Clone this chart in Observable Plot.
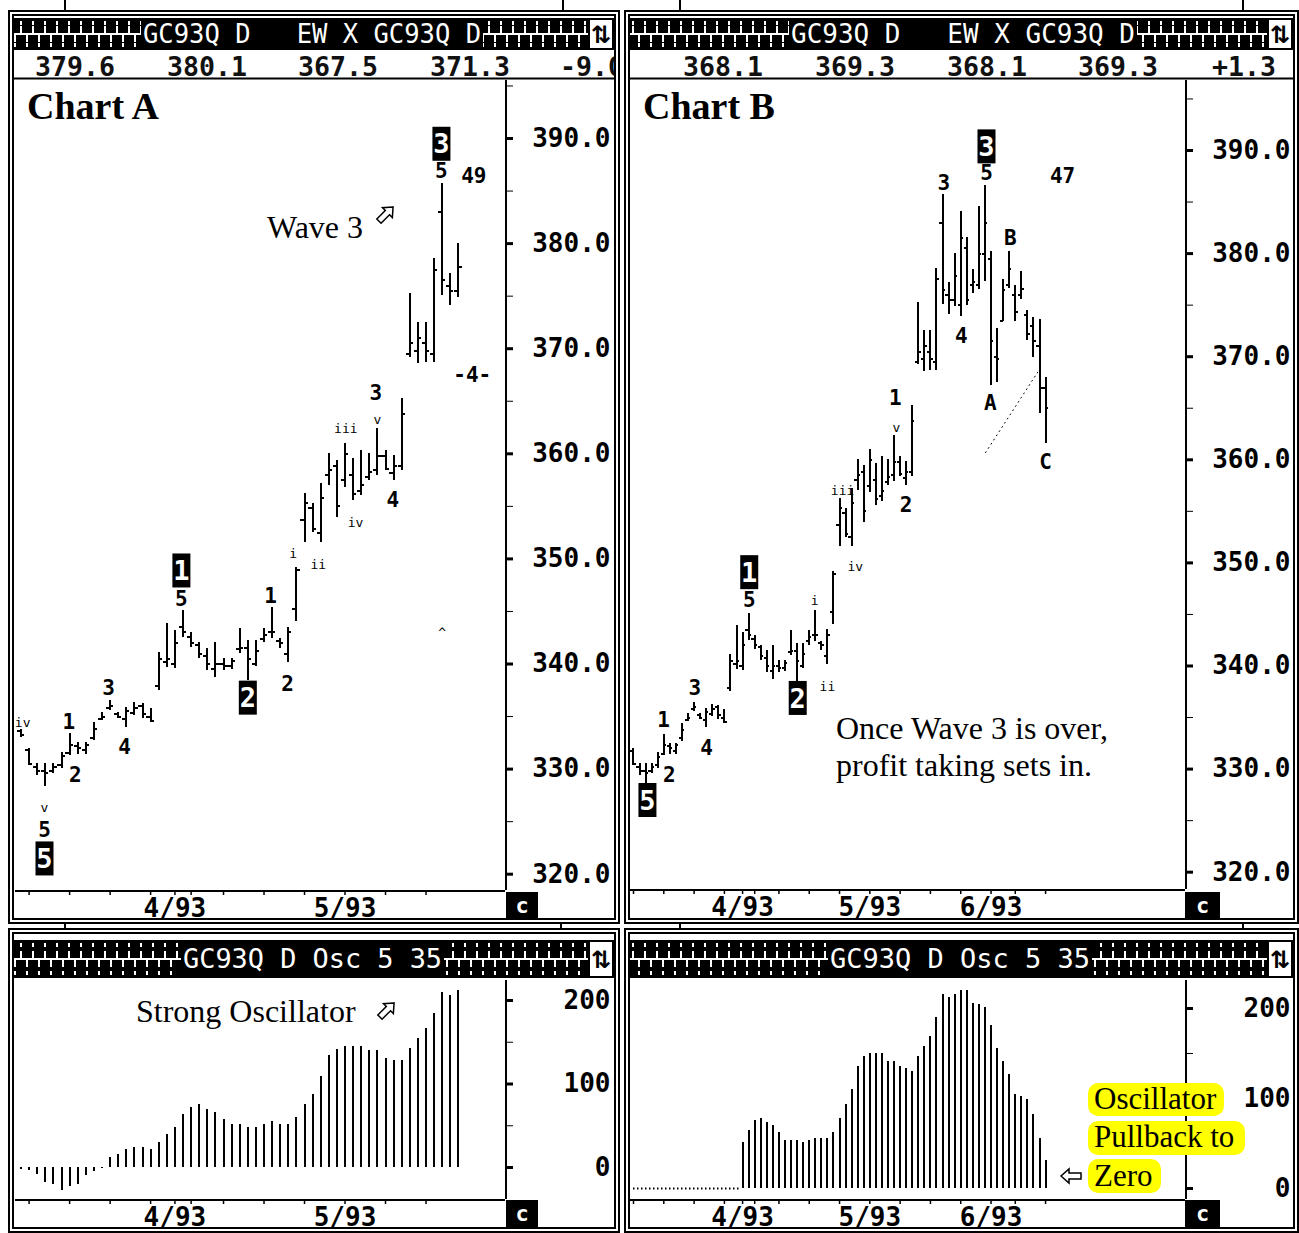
<!DOCTYPE html>
<html>
<head>
<meta charset="utf-8">
<script src="https://cdn.jsdelivr.net/npm/d3@7"></script>
<script src="https://cdn.jsdelivr.net/npm/@observablehq/plot@0.6"></script>
<style>
html,body{margin:0;padding:0;background:#fff;}
body{width:1299px;height:1233px;position:relative;overflow:hidden;}
.pl{position:absolute;}
svg.layer{position:absolute;left:0;top:0;}
</style>
</head>
<body>
<script>
// ---------------- DATA ----------------
const dates = [
 "1993-03-05",
 "1993-03-08","1993-03-09","1993-03-10","1993-03-11","1993-03-12",
 "1993-03-15","1993-03-16","1993-03-17","1993-03-18","1993-03-19",
 "1993-03-22","1993-03-23","1993-03-24","1993-03-25","1993-03-26",
 "1993-03-29","1993-03-30","1993-03-31","1993-04-01","1993-04-02",
 "1993-04-05","1993-04-06","1993-04-07","1993-04-08",
 "1993-04-12","1993-04-13","1993-04-14","1993-04-15","1993-04-16",
 "1993-04-19","1993-04-20","1993-04-21","1993-04-22","1993-04-23",
 "1993-04-26","1993-04-27","1993-04-28","1993-04-29","1993-04-30",
 "1993-05-03","1993-05-04","1993-05-05","1993-05-06","1993-05-07",
 "1993-05-10","1993-05-11","1993-05-12","1993-05-13","1993-05-14",
 "1993-05-17","1993-05-18","1993-05-19","1993-05-20","1993-05-21",
 "1993-05-24","1993-05-25","1993-05-26","1993-05-27","1993-05-28",
 "1993-06-01","1993-06-02","1993-06-03","1993-06-04",
 "1993-06-07","1993-06-08","1993-06-09","1993-06-10","1993-06-11",
 "1993-06-14"
];
const high = [333.8,332.0,330.5,330.5,330.5,331.6,333.4,332.5,332.5,334.4,
 335.4,336.5,335.4,335.9,336.3,336.2,335.8,341.1,343.9,343.2,
 345.1,343.0,342.0,341.5,342.0,340.5,340.5,343.4,342.2,342.2,
 343.4,345.4,342.4,343.5,349.2,356.2,355.3,357.2,360.0,359.4,
 361.0,359.6,360.3,360.0,362.4,360.3,359.8,365.3,375.3,372.5,
 372.5,378.6,385.7,377.2,380.0,384.1,381.6,378.5,384.6,386.6,
 380.2,372.7,377.5,380.2,376.9,378.3,374.5,373.8,373.6,368.0];
const low = [333.0,330.3,329.4,328.3,329.6,330.1,331.3,331.4,331.4,332.7,
 334.6,335.6,334.8,334.0,335.1,334.8,334.4,337.5,339.7,339.6,
 342.5,341.6,340.5,339.4,338.7,339.4,339.5,341.0,338.4,339.8,
 342.0,342.4,341.5,340.1,344.0,351.6,352.5,351.6,357.0,353.9,
 356.8,355.6,356.0,357.5,357.9,358.4,357.5,358.4,369.2,368.6,
 368.7,368.7,375.1,374.1,374.9,373.9,375.0,376.1,376.5,377.3,
 367.2,367.5,373.4,376.6,373.4,375.5,371.6,369.9,364.5,361.6];
const open = [333.6,331.8,330.2,329.8,329.8,330.4,331.5,332.2,331.8,333.0,
 334.8,335.8,335.2,334.8,335.3,336.0,335.0,337.9,340.2,340.0,
 343.5,342.6,341.8,340.8,339.5,340.0,339.8,341.4,341.5,340.0,
 342.4,343.0,342.2,341.0,345.2,353.7,354.8,352.5,358.0,358.8,
 357.5,358.0,356.5,357.8,358.5,359.8,358.2,358.8,369.5,369.8,
 370.5,369.5,383.0,376.0,375.5,375.0,380.5,377.0,377.0,380.0,
 379.5,370.0,373.5,377.0,376.0,376.0,374.0,373.0,371.0,367.0];
const close = [333.2,330.5,329.8,329.6,330.2,331.2,332.3,332.0,332.3,333.8,
 335.0,336.0,335.0,335.5,335.8,335.2,334.6,340.5,340.5,342.0,
 343.0,342.0,341.0,340.0,340.0,339.8,340.3,341.5,340.5,341.2,
 342.8,343.0,342.0,343.0,348.9,355.3,352.8,355.8,358.5,355.0,
 360.0,356.2,357.0,358.3,359.8,358.6,358.8,363.8,370.5,371.0,
 369.8,377.5,376.5,375.5,377.8,381.5,375.5,377.2,380.0,383.0,
 371.5,369.8,376.5,378.5,374.3,376.6,372.2,371.5,367.0,365.0];
// Oscillator (5/35) as shown under Chart A: bars 0..54
const oscA = [-2,-3,-8,-18,-20,-27,-23,-20,-10,-5,
 -1,12,15,21,24,24,21,30,39,48,
 63,72,75,69,66,57,51,51,48,48,
 51,55,51,51,60,75,87,109,134,141,
 145,145,145,140,140,130,128,128,142,155,
 166,185,209,206,212];
// Oscillator as shown under Chart B: bars 1..69 (0 = not yet computed, drawn dotted)
const oscB = [0,0,0,0,0,0,0,0,0,0,0,0,0,0,0,0,0,0,
 51,65,76,78,73,70,62,53,53,53,51,53,56,56,56,62,78,93,110,136,
 147,150,150,150,141,141,136,133,130,147,158,169,190,215,212,215,
 220,220,206,204,201,181,155,141,127,104,102,99,82,56,31];
const chartAEnd = 54;     // last bar shown in Chart A
const chartBStart = 1;    // first bar shown in Chart B
const monthTickLabels = ["4/93","5/93","6/93"];
const priceMajor = [320,330,340,350,360,370,380,390];
const priceMinor = [325,335,345,355,365,375,385,395];
const oscMajor = [0,100,200];
const oscMinor = [50,150];
const headerPricesA = ["379.6","380.1","367.5","371.3","-9.0"];
const headerPricesB = ["368.1","369.3","368.1","369.3","+1.3"];

// Elliott wave annotations (bar index, price)
const wavesA = [
 {i:0.2,p:334.4,t:"iv",k:"s"},{i:2.9,p:326.3,t:"v",k:"s"},{i:2.9,p:324.2,t:"5",k:"b"},{i:2.9,p:321.5,t:"5",k:"box"},
 {i:5.9,p:334.5,t:"1",k:"b"},{i:6.7,p:329.4,t:"2",k:"b"},{i:10.8,p:337.7,t:"3",k:"b"},{i:12.8,p:332.1,t:"4",k:"b"},
 {i:19.8,p:348.9,t:"1",k:"box"},{i:19.8,p:346.2,t:"5",k:"b"},{i:28.0,p:336.8,t:"2",k:"box"},
 {i:30.8,p:346.4,t:"1",k:"b"},{i:32.9,p:338.1,t:"2",k:"b"},{i:33.6,p:350.5,t:"i",k:"s"},{i:36.7,p:349.4,t:"ii",k:"s"},
 {i:40.1,p:362.4,t:"iii",k:"s"},{i:41.3,p:353.4,t:"iv",k:"s"},{i:44.0,p:363.2,t:"v",k:"s"},
 {i:43.8,p:365.8,t:"3",k:"b"},{i:45.9,p:355.6,t:"4",k:"b"},
 {i:51.9,p:389.5,t:"3",k:"box"},{i:51.9,p:386.9,t:"5",k:"b"},{i:55.9,p:386.4,t:"49",k:"b"},
 {i:55.7,p:367.5,t:"-4-",k:"b"},{i:52.0,p:343.0,t:"^",k:"s"}
];
const wavesB = [
 {i:3.3,p:327.0,t:"5",k:"box"},{i:5.95,p:334.7,t:"1",k:"b"},{i:6.9,p:329.4,t:"2",k:"b"},{i:11.1,p:337.8,t:"3",k:"b"},
 {i:13.05,p:332.0,t:"4",k:"b"},{i:20.1,p:349.1,t:"1",k:"box"},{i:20.1,p:346.4,t:"5",k:"b"},{i:28.1,p:336.9,t:"2",k:"box"},
 {i:30.9,p:346.3,t:"i",k:"s"},{i:33.0,p:338.0,t:"ii",k:"s"},{i:35.5,p:357.0,t:"iii",k:"s"},{i:37.6,p:349.6,t:"iv",k:"s"},
 {i:44.2,p:366.0,t:"1",k:"b"},{i:44.4,p:363.1,t:"v",k:"s"},{i:46.0,p:355.6,t:"2",k:"b"},
 {i:52.2,p:386.8,t:"3",k:"b"},{i:55.1,p:372.0,t:"4",k:"b"},{i:59.25,p:390.4,t:"3",k:"box"},{i:59.25,p:387.8,t:"5",k:"b"},
 {i:71.8,p:387.5,t:"47",k:"b"},{i:63.2,p:381.5,t:"B",k:"b"},{i:59.9,p:365.5,t:"A",k:"b"},{i:69.0,p:359.8,t:"C",k:"b"}
];
const trendB = [{i:59.1,p:360.7},{i:67.7,p:368.5}];

// ---------------- DERIVED ----------------
const rows = dates.map((d,i)=>({i, date:d, o:open[i], h:high[i], l:low[i], c:close[i]}));
const dow = d => new Date(d+"T00:00:00Z").getUTCDay();
const mon = d => +d.slice(5,7);
const weekStarts = dates.map((d,i)=> i>0 && dow(d) < dow(dates[i-1]) ? i : null).filter(v=>v!=null);
const monthStarts = dates.map((d,i)=> i>0 && mon(d) !== mon(dates[i-1]) ? i : null).filter(v=>v!=null);
const monthLabel = new Map(monthStarts.map((i,k)=>[i, monthTickLabels[k]]));
const allTicks = Array.from(new Set([...weekStarts, ...monthStarts])).sort((a,b)=>a-b);

const FONT = "DejaVu Sans Mono";
const boxSymbol = {draw(ctx){ctx.moveTo(-9,-17);ctx.lineTo(9,-17);ctx.lineTo(9,17);ctx.lineTo(-9,17);ctx.closePath();}};

function waveMarks(labels){
  const box = labels.filter(d=>d.k==="box"), b = labels.filter(d=>d.k==="b"), s = labels.filter(d=>d.k==="s");
  return [
    Plot.dot(box,{x:"i",y:"p",symbol:boxSymbol,fill:"#000",stroke:"none"}),
    Plot.text(box,{x:"i",y:"p",text:"t",fill:"#fff",fontSize:27,fontWeight:"bold",fontFamily:FONT,dy:1}),
    Plot.text(b,{x:"i",y:"p",text:"t",fill:"#000",fontSize:21,fontWeight:"bold",fontFamily:FONT}),
    Plot.text(s,{x:"i",y:"p",text:"t",fill:"#000",fontSize:13,fontFamily:FONT})
  ];
}

function commonAxes(xDomain, yDomain, ticks, major, minor, fmt){
  return [
    Plot.ruleX([xDomain[1]],{stroke:"#000",strokeWidth:2,shapeRendering:"crispEdges"}),
    Plot.ruleY([yDomain[0]],{stroke:"#000",strokeWidth:2,shapeRendering:"crispEdges"}),
    Plot.axisY({anchor:"right",ticks:minor,tickSize:7,strokeWidth:1,tickFormat:()=>"",label:null}),
    Plot.axisY({anchor:"right",ticks:major,tickSize:7,strokeWidth:3,tickPadding:98,textAnchor:"end",
      tickFormat:fmt,fontSize:26,fontWeight:"bold",fontFamily:FONT,label:null}),
    Plot.axisX({anchor:"bottom",ticks:ticks,tickSize:5,tickPadding:3,strokeWidth:1.5,
      tickFormat:i=>monthLabel.get(i) ?? "",fontSize:26,fontWeight:"bold",fontFamily:FONT,label:null})
  ];
}

function place(plot, left, top){
  const div = document.createElement("div");
  div.className = "pl"; div.style.left = left+"px"; div.style.top = top+"px";
  div.appendChild(plot); document.body.appendChild(div);
}

const styleObj = {background:"transparent",fontFamily:FONT,color:"#000",overflow:"visible"};

function pricePlot({data, labels, xDomain, yDomain, width, mb, tw, extra=[]}){
  const ticks = allTicks.filter(t=>t>=data[0].i && t<=data[data.length-1].i);
  return Plot.plot({
    width, height:842, marginLeft:0, marginRight:112, marginTop:0, marginBottom:mb,
    x:{domain:xDomain,label:null}, y:{domain:yDomain,label:null}, style:styleObj,
    marks:[
      ...commonAxes(xDomain,yDomain,ticks,priceMajor,priceMinor,d=>d.toFixed(1)),
      Plot.ruleX(data,{x:"i",y1:"l",y2:"h",stroke:"#000",strokeWidth:2,shapeRendering:"crispEdges"}),
      Plot.ruleY(data,{x1:d=>d.i-tw,x2:"i",y:"o",stroke:"#000",strokeWidth:2,shapeRendering:"crispEdges"}),
      Plot.ruleY(data,{x1:"i",x2:d=>d.i+tw,y:"c",stroke:"#000",strokeWidth:2,shapeRendering:"crispEdges"}),
      ...extra,
      ...waveMarks(labels)
    ]
  });
}

function oscPlot({data, xDomain, yDomain, width, ticksRange, extra=[]}){
  const ticks = allTicks.filter(t=>t>=ticksRange[0] && t<=ticksRange[1]);
  return Plot.plot({
    width, height:248, marginLeft:0, marginRight:112, marginTop:0, marginBottom:29,
    x:{domain:xDomain,label:null}, y:{domain:yDomain,label:null}, style:styleObj,
    marks:[
      ...commonAxes(xDomain,yDomain,ticks,oscMajor,oscMinor,d=>String(d)),
      ...extra,
      Plot.ruleX(data.filter(d=>d.v!==0),{x:"i",y1:()=>0,y2:"v",stroke:"#000",strokeWidth:2,shapeRendering:"crispEdges"})
    ]
  });
}

// ---------------- BACKGROUND LAYER ----------------
const bg = d3.select("body").append("svg").attr("class","layer").attr("width",1299).attr("height",1233);
const defs = bg.append("defs");
function rulerPattern(id, y, h){
  const p = defs.append("pattern").attr("id",id).attr("patternUnits","userSpaceOnUse")
    .attr("x",0).attr("y",y).attr("width",12).attr("height",h);
  const m = Math.round(h/2);
  p.append("path").attr("d",`M0,${m}H12M3,${m}V${m+8}M9,${m}V${m-8}M9,3V7M3,${h-7}V${h-3}`)
    .attr("stroke","#fff").attr("stroke-width",1.6).attr("fill","none").attr("shape-rendering","crispEdges");
}
rulerPattern("rulT",18,32); rulerPattern("rulB",940,38);

function header(x0,x1,y,h,pat,labelX,labelW,label){
  bg.append("rect").attr("x",x0).attr("y",y).attr("width",x1-x0).attr("height",h).attr("fill","#000");
  bg.append("rect").attr("x",x0).attr("y",y).attr("width",labelX-x0-2).attr("height",h).attr("fill",`url(#${pat})`);
  bg.append("rect").attr("x",labelX+labelW+2).attr("y",y).attr("width",x1-26-(labelX+labelW+2)).attr("height",h).attr("fill",`url(#${pat})`);
  bg.append("text").attr("x",labelX).attr("y",y+h/2+9).attr("fill","#fff").attr("font-family",FONT).attr("font-size",26)
    .attr("textLength",labelW).attr("lengthAdjust","spacingAndGlyphs").attr("xml:space","preserve").text(label);
  bg.append("rect").attr("x",x1-24).attr("y",y+2).attr("width",22).attr("height",h-4).attr("fill","#fff");
  bg.append("text").attr("x",x1-13).attr("y",y+h/2+9).attr("text-anchor","middle").attr("font-family","DejaVu Sans")
    .attr("font-weight","bold").attr("font-size",24).attr("fill","#000").text("⇅");
}
header(14,614,18,32,"rulT",143,338,"GC93Q D   EW X GC93Q D");
header(630,1293,18,32,"rulT",791,344,"GC93Q D   EW X GC93Q D");
header(14,614,940,38,"rulB",183,259,"GC93Q D Osc 5 35");
header(630,1293,940,38,"rulB",830,260,"GC93Q D Osc 5 35");

function priceRow(vals, xs, x0, x1){
  vals.forEach((v,k)=>{
    bg.append("text").attr("x",xs[k]).attr("y",76).attr("font-family",FONT).attr("font-weight","bold")
      .attr("font-size",26).attr("fill","#111").attr("textLength",v.length*16).attr("lengthAdjust","spacingAndGlyphs").text(v);
  });
  bg.append("line").attr("x1",x0).attr("x2",x1).attr("y1",78.5).attr("y2",78.5).attr("stroke","#000").attr("stroke-width",2);
}
priceRow(headerPricesA,[35,167,298,430,560],14,614);
priceRow(headerPricesB,[683,815,947,1078,1212],630,1293);
bg.append("rect").attr("x",615).attr("y",50).attr("width",10).attr("height",30).attr("fill","#fff");

function cbox(x,y,w,h){
  bg.append("rect").attr("x",x).attr("y",y).attr("width",w).attr("height",h).attr("fill","#000");
  bg.append("text").attr("x",x+w/2).attr("y",y+h/2+7).attr("text-anchor","middle").attr("fill","#fff")
    .attr("font-family",FONT).attr("font-weight","bold").attr("font-size",22).text("c");
}
cbox(506,892,32,27); cbox(1185,892,35,27); cbox(506,1200,32,27); cbox(1185,1200,35,27);

function frame(x,y,w,h){
  bg.append("rect").attr("x",x+1).attr("y",y+1).attr("width",w-2).attr("height",h-2).attr("fill","none").attr("stroke","#000").attr("stroke-width",2);
  bg.append("rect").attr("x",x+5).attr("y",y+5).attr("width",w-10).attr("height",h-10).attr("fill","none").attr("stroke","#000").attr("stroke-width",2);
}
frame(8,10,612,914); frame(624,10,675,914); frame(8,928,612,305); frame(624,928,675,305);
[[65,0,10],[563,0,10],[65,922,930],[561,922,930],[680,0,10],[1243,0,10],[680,922,930],[1243,922,930]].forEach(([x,a,b])=>
  bg.append("line").attr("x1",x).attr("x2",x).attr("y1",a).attr("y2",b).attr("stroke","#000").attr("stroke-width",2));

// ---------------- PLOTS ----------------
const dataA = rows.filter(r=>r.i<=chartAEnd);
const dataB = rows.filter(r=>r.i>=chartBStart);
const xDomA = [-0.68, 59.81], xDomB = [0.505, 92.09];

place(pricePlot({data:dataA, labels:wavesA, xDomain:xDomA, yDomain:[318.45,395.52], width:602, mb:32, tw:0.45}), 15, 80);
place(pricePlot({data:dataB, labels:wavesB, xDomain:xDomB, yDomain:[318.32,396.79], width:667, mb:33, tw:0.45,
  extra:[Plot.line(trendB,{x:"i",y:"p",stroke:"#000",strokeWidth:1,strokeDasharray:"1,4"})]}), 630, 80);

const oscARows = oscA.map((v,k)=>({i:k, v}));
const oscBRows = oscB.map((v,k)=>({i:k+chartBStart, v}));
const zeroB = oscBRows.filter(d=>d.v===0);
place(oscPlot({data:oscARows, xDomain:xDomA, yDomain:[-38.3,223.95], width:602, ticksRange:[0,chartAEnd]}), 15, 980);
place(oscPlot({data:oscBRows, xDomain:xDomB, yDomain:[-12.2,231.1], width:667, ticksRange:[chartBStart,69],
  extra:[Plot.ruleY([0],{x1:()=>zeroB[0].i, x2:()=>zeroB[zeroB.length-1].i+0.6, stroke:"#000",strokeWidth:2,strokeDasharray:"1.5,2.5"})]}), 630, 980);

// ---------------- OVERLAY ANNOTATIONS ----------------
const ov = d3.select("body").append("svg").attr("class","layer").attr("width",1299).attr("height",1233);
function serif(t,x,y,size,bold){
  ov.append("text").attr("x",x).attr("y",y).attr("font-family","Liberation Serif").attr("font-size",size)
    .attr("font-weight",bold?"bold":"normal").attr("fill","#000").text(t);
}
serif("Chart A",27,119,38,true);
serif("Chart B",643,119,38,true);
serif("Wave 3",267,238,32);
serif("Strong Oscillator",136,1022,32);
serif("Once Wave 3 is over,",836,739,32);
serif("profit taking sets in.",836,776,32);
function arrow(cx,cy,rot){
  ov.append("path").attr("d","M10,0L2,-7L2,-3L-10,-3L-10,3L2,3L2,7Z")
    .attr("transform",`translate(${cx},${cy}) rotate(${rot})`).attr("fill","#fff").attr("stroke","#000").attr("stroke-width",1.5);
}
arrow(386,214,-45); arrow(387,1010,-45); arrow(1071,1176,180);
[["Oscillator",1088,1083,136,33,1109],["Pullback to",1088,1121,157,34,1147],["Zero",1088,1159,73,34,1186]].forEach(([t,x,y,w,h,b])=>{
  ov.append("rect").attr("x",x).attr("y",y).attr("width",w).attr("height",h).attr("rx",10).attr("fill","#ffff00");
  serif(t,x+6,b,31);
});
</script>
</body>
</html>
